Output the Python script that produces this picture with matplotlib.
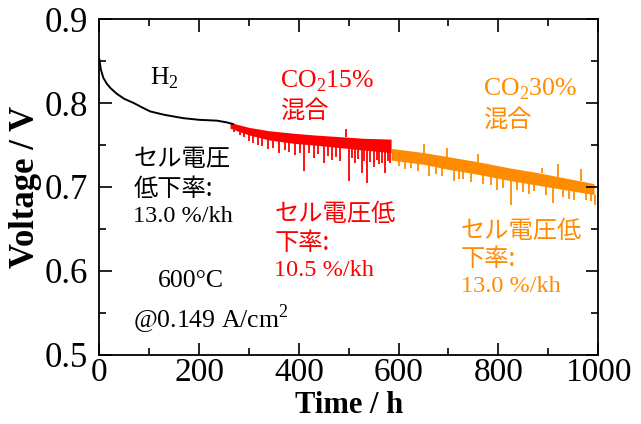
import numpy as np
import matplotlib.pyplot as plt
from matplotlib.ticker import MultipleLocator

# --- H2 区間 (黒) ---
h2_time = [0, 3, 8, 15, 22, 35, 50, 69, 85, 102, 130, 168, 200, 236, 255, 268]
h2_volt = [0.852, 0.840, 0.830, 0.823, 0.818, 0.811, 0.805, 0.800, 0.795, 0.790, 0.786, 0.782, 0.780, 0.779, 0.777, 0.775]

# --- CO2 15% 区間 (赤): ノイズ帯の上端・下端とスパイク ---
co2_15_time = [262, 280, 300, 340, 390, 430, 480, 530, 585]
co2_15_upper = [0.777, 0.774, 0.771, 0.767, 0.764, 0.762, 0.760, 0.758, 0.757]
co2_15_lower = [0.770, 0.766, 0.762, 0.756, 0.752, 0.750, 0.747, 0.744, 0.741]
co2_15_spike_t = [270, 282, 290, 300, 308, 318, 326, 339, 348, 360, 372, 381, 393, 402, 411,
                  420, 430, 438, 450, 458, 466, 474, 482, 494, 500, 506, 512, 519, 526, 531,
                  536, 543, 550, 556, 560, 566, 573, 578, 582]
co2_15_spike_v = [0.765, 0.762, 0.759, 0.755, 0.752, 0.750, 0.749, 0.745, 0.746, 0.741, 0.744, 0.742, 0.738, 0.741, 0.719,
                  0.740, 0.735, 0.739, 0.729, 0.737, 0.732, 0.736, 0.731, 0.769, 0.707, 0.734, 0.728, 0.733, 0.717, 0.731,
                  0.705, 0.730, 0.724, 0.732, 0.727, 0.729, 0.717, 0.731, 0.728]

# --- CO2 30% 区間 (橙) ---
co2_30_time = [585, 650, 700, 760, 820, 880, 940, 992]
co2_30_upper = [0.746, 0.741, 0.736, 0.730, 0.723, 0.717, 0.710, 0.704]
co2_30_lower = [0.732, 0.727, 0.721, 0.715, 0.708, 0.702, 0.696, 0.691]
co2_30_spike_t = [600, 612, 625, 638, 651, 662, 675, 688, 698, 712, 722, 730, 745, 760, 770,
                  785, 797, 810, 825, 838, 850, 862, 872, 887, 895, 909, 920, 930, 942, 952,
                  965, 975, 985, 994]
co2_30_spike_v = [0.725, 0.722, 0.723, 0.719, 0.751, 0.713, 0.716, 0.713, 0.746, 0.707, 0.710, 0.709, 0.706, 0.739, 0.704,
                  0.702, 0.697, 0.699, 0.679, 0.697, 0.694, 0.692, 0.695, 0.723, 0.690, 0.681, 0.727, 0.688, 0.686, 0.685,
                  0.721, 0.684, 0.683, 0.679]

red = '#ff0000'
orange = '#ff8c00'

serif = ['Liberation Serif', 'DejaVu Serif']
jp = ['Noto Sans CJK JP', 'DejaVu Sans']
plt.rcParams['mathtext.fontset'] = 'custom'
plt.rcParams['mathtext.rm'] = 'Liberation Serif'

fig, ax = plt.subplots(figsize=(6.41, 4.24), dpi=100)
fig.subplots_adjust(left=0.155, right=0.933, top=0.955, bottom=0.163)

ax.plot(h2_time, h2_volt, color='black', lw=1.4)


def draw_noisy(t, lo, hi, st, sv, c):
    ax.fill_between(t, lo, hi, color=c, lw=0)
    top = np.interp(st, t, hi)
    bot = np.interp(st, t, lo)
    base = np.where(np.array(sv) > top, top, bot)
    ax.vlines(st, base, sv, color=c, lw=1.3)


draw_noisy(co2_15_time, co2_15_lower, co2_15_upper, co2_15_spike_t, co2_15_spike_v, red)
draw_noisy(co2_30_time, co2_30_lower, co2_30_upper, co2_30_spike_t, co2_30_spike_v, orange)

ax.set_xlim(0, 1000)
ax.set_ylim(0.5, 0.9)
ax.xaxis.set_minor_locator(MultipleLocator(100))
ax.yaxis.set_minor_locator(MultipleLocator(0.05))
ax.tick_params(which='both', direction='in', top=True, right=True, width=1.2)
ax.tick_params(which='major', length=9)
ax.tick_params(which='minor', length=5)
ax.tick_params(axis='x', pad=2)
ax.tick_params(axis='y', pad=8)
for s in ax.spines.values():
    s.set_linewidth(1.3)
ax.set_xticks([0, 200, 400, 600, 800, 1000])
ax.set_xticklabels(['0', '200', '400', '600', '800', '1000'], family=serif, fontsize=24)
ax.set_yticks([0.5, 0.6, 0.7, 0.8, 0.9])
ax.set_yticklabels(['0.5', '0.6', '0.7', '0.8', '0.9'], family=serif, fontsize=25)

ax.set_xlabel('Time / h', family=serif, fontweight='bold', fontsize=22, labelpad=2)
ax.set_ylabel('Voltage / V', family=serif, fontweight='bold', fontsize=25, labelpad=2)

# 注記
fs_s = 18.5
fs_j = 17.5
ax.text(102, 0.829, r'H$_2$', family=serif, fontsize=fs_s, ha='left', va='center')
ax.text(68, 0.733, 'セル電圧', family=jp, fontsize=fs_j, va='center')
ax.text(68, 0.698, '低下率:', family=jp, fontsize=fs_j, va='center')
ax.text(68, 0.665, '13.0 %/kh', family=serif, fontsize=17.5, va='center')
ax.text(117, 0.588, '600°C', family=serif, fontsize=fs_s, va='center')
ax.text(68, 0.543, r'@0.149 A/cm$^2$', family=serif, fontsize=fs_s, va='center')

ax.text(363, 0.826, r'CO$_2$15%', family=serif, fontsize=fs_s, color=red, va='center')
ax.text(363, 0.791, '混合', family=jp, fontsize=fs_j, color=red, va='center')
ax.text(351, 0.668, 'セル電圧低', family=jp, fontsize=fs_j, color=red, va='center')
ax.text(351, 0.633, '下率:', family=jp, fontsize=fs_j, color=red, va='center')
ax.text(351, 0.601, '10.5 %/kh', family=serif, fontsize=17.5, color=red, va='center')

ax.text(770, 0.817, r'CO$_2$30%', family=serif, fontsize=fs_s, color=orange, va='center')
ax.text(770, 0.780, '混合', family=jp, fontsize=fs_j, color=orange, va='center')
ax.text(725, 0.648, 'セル電圧低', family=jp, fontsize=fs_j, color=orange, va='center')
ax.text(725, 0.614, '下率:', family=jp, fontsize=fs_j, color=orange, va='center')
ax.text(725, 0.581, '13.0 %/kh', family=serif, fontsize=17.5, color=orange, va='center')

fig.savefig('out.png', dpi=100)
